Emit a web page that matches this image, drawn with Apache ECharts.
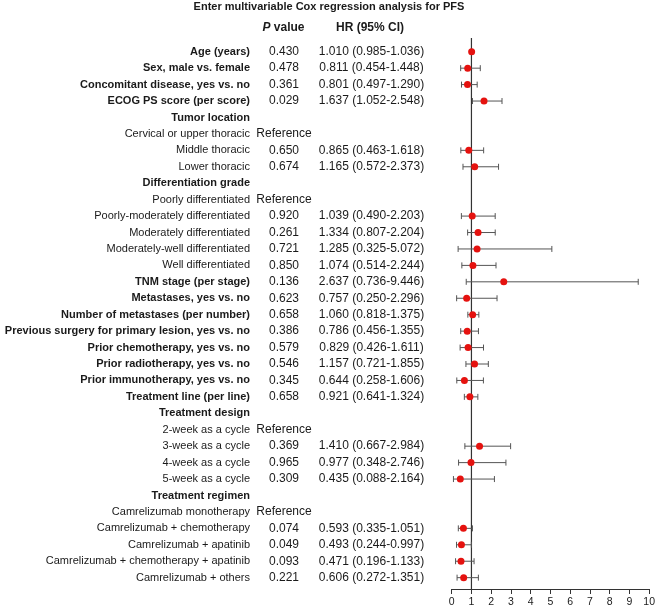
<!DOCTYPE html>
<html>
<head>
<meta charset="utf-8">
<script src="https://cdn.jsdelivr.net/npm/echarts@6/dist/echarts.min.js"></script>
<style>html,body{margin:0;padding:0;background:#fff;}#c{width:658px;height:608px;}</style>
</head>
<body>
<div id="c"></div>
<script>
const rowLabels = ['Age (years)', 'Sex, male vs. female', 'Concomitant disease, yes vs. no', 'ECOG PS score (per score)', 'Tumor location', 'Cervical or upper thoracic', 'Middle thoracic', 'Lower thoracic', 'Differentiation grade', 'Poorly differentiated', 'Poorly-moderately differentiated', 'Moderately differentiated', 'Moderately-well differentiated', 'Well differentiated', 'TNM stage (per stage)', 'Metastases, yes vs. no', 'Number of metastases (per number)', 'Previous surgery for primary lesion, yes vs. no', 'Prior chemotherapy, yes vs. no', 'Prior radiotherapy, yes vs. no', 'Prior immunotherapy, yes vs. no', 'Treatment line (per line)', 'Treatment design', '2-week as a cycle', '3-week as a cycle', '4-week as a cycle', '5-week as a cycle', 'Treatment regimen', 'Camrelizumab monotherapy', 'Camrelizumab + chemotherapy', 'Camrelizumab + apatinib', 'Camrelizumab + chemotherapy + apatinib', 'Camrelizumab + others'];
const boldRows = [0, 1, 2, 3, 4, 8, 14, 15, 16, 17, 18, 19, 20, 21, 22, 27];
const pValues = ['0.430','0.478','0.361','0.029','','Reference','0.650','0.674','','Reference','0.920','0.261','0.721','0.850','0.136','0.623','0.658','0.386','0.579','0.546','0.345','0.658','','Reference','0.369','0.965','0.309','','Reference','0.074','0.049','0.093','0.221'];
const hr = [1.010,0.811,0.801,1.637,null,null,0.865,1.165,null,null,1.039,1.334,1.285,1.074,2.637,0.757,1.060,0.786,0.829,1.157,0.644,0.921,null,null,1.410,0.977,0.435,null,null,0.593,0.493,0.471,0.606];
const ciLow = [0.985,0.454,0.497,1.052,null,null,0.463,0.572,null,null,0.490,0.807,0.325,0.514,0.736,0.250,0.818,0.456,0.426,0.721,0.258,0.641,null,null,0.667,0.348,0.088,null,null,0.335,0.244,0.196,0.272];
const ciHigh = [1.036,1.448,1.290,2.548,null,null,1.618,2.373,null,null,2.203,2.204,5.072,2.244,9.446,2.296,1.375,1.355,1.611,1.855,1.606,1.324,null,null,2.984,2.746,2.164,null,null,1.051,0.997,1.133,1.351];
const xTicks = [0, 1, 2, 3, 4, 5, 6, 7, 8, 9, 10];
const refLineX = 1;

const nRows = rowLabels.length;
const hrText = hr.map((v, i) => v == null ? '' : v.toFixed(3) + ' (' + ciLow[i].toFixed(3) + '-' + ciHigh[i].toFixed(3) + ')');
function rowIndex(v) {
  const r = Math.round(v);
  if (Math.abs(v - r) > 1e-6 || r < 0 || r >= nRows) return -1;
  return r;
}
const yMin = -1, yMax = 32.69;
const baseY = {type: 'value', inverse: true, min: yMin, max: yMax, interval: 1, position: 'left',
  axisLine: {show: false}, axisTick: {show: false}, splitLine: {show: false}};
const txtColor = '#1a1a1a';
const fontFam = '"Liberation Sans", Arial, sans-serif';

const pointData = [], barData = [];
hr.forEach((v, i) => { if (v != null) { pointData.push([v, i]); barData.push([ciLow[i], ciHigh[i], i]); } });

const chart = echarts.init(document.getElementById('c'), null, {renderer: 'canvas'});
chart.setOption({
  animation: false,
  backgroundColor: '#fff',
  textStyle: {fontFamily: fontFam},
  title: [
    {text: 'Enter multivariable Cox regression analysis for PFS', left: 'center', top: 0.5, padding: 0,
      textStyle: {fontSize: 11, fontWeight: 'bold', color: txtColor, lineHeight: 13, fontFamily: fontFam}},
    {text: '{i|P} value', left: 283.5, top: 20.5, padding: 0, textAlign: 'center',
      textStyle: {fontSize: 12, fontWeight: 'bold', color: txtColor, lineHeight: 14, fontFamily: fontFam,
        rich: {i: {fontSize: 12, fontWeight: 'bold', fontStyle: 'italic', color: txtColor, fontFamily: fontFam}}}},
    {text: 'HR (95% CI)', left: 370, top: 20.5, padding: 0, textAlign: 'center',
      textStyle: {fontSize: 12, fontWeight: 'bold', color: txtColor, lineHeight: 14, fontFamily: fontFam}}
  ],
  grid: {left: 451.7, right: 7.3, top: 35.3, bottom: 19, containLabel: false},
  xAxis: {type: 'value', min: xTicks[0], max: xTicks[xTicks.length - 1], interval: 1,
    axisLine: {show: true, onZero: false, lineStyle: {color: '#333', width: 1}},
    axisTick: {show: true, length: 5, lineStyle: {color: '#333'}},
    axisLabel: {fontSize: 10.5, color: txtColor, margin: 8, fontFamily: fontFam},
    splitLine: {show: false}},
  yAxis: [
    Object.assign({}, baseY, {axisLabel: {show: false}}),
    Object.assign({}, baseY, {offset: 201.7, axisLabel: {show: true, margin: 0, align: 'right',
      formatter: v => { const r = rowIndex(v); if (r < 0) return ''; return (boldRows.indexOf(r) >= 0 ? '{b|' : '{n|') + rowLabels[r] + '}'; },
      rich: {b: {fontSize: 11, fontWeight: 'bold', color: txtColor, fontFamily: fontFam},
             n: {fontSize: 11, color: txtColor, fontFamily: fontFam}}}}),
    Object.assign({}, baseY, {offset: 167.7, axisLabel: {show: true, margin: 0, align: 'center', fontSize: 12, color: txtColor, fontFamily: fontFam,
      formatter: v => { const r = rowIndex(v); return r < 0 ? '' : pValues[r]; }}}),
    Object.assign({}, baseY, {offset: 80.2, axisLabel: {show: true, margin: 0, align: 'center', fontSize: 12, color: txtColor, fontFamily: fontFam,
      formatter: v => { const r = rowIndex(v); return r < 0 ? '' : hrText[r]; }}})
  ],
  series: [
    {type: 'custom', name: 'ref', xAxisIndex: 0, yAxisIndex: 0, data: [[refLineX, -0.83, yMax]],
      encode: {x: 0, y: [1, 2]},
      renderItem: (params, api) => {
        const a = api.coord([api.value(0), api.value(1)]);
        const b = api.coord([api.value(0), api.value(2)]);
        return {type: 'line', shape: {x1: a[0], y1: a[1], x2: b[0], y2: b[1]}, style: {stroke: '#333', lineWidth: 1.2}};
      }},
    {type: 'custom', name: 'ci', xAxisIndex: 0, yAxisIndex: 0, data: barData,
      encode: {x: [0, 1], y: 2},
      renderItem: (params, api) => {
        const y = api.value(2);
        const p1 = api.coord([api.value(0), y]);
        const p2 = api.coord([api.value(1), y]);
        const h = 3;
        const st = {stroke: '#555', lineWidth: 1};
        return {type: 'group', children: [
          {type: 'line', shape: {x1: p1[0], y1: p1[1], x2: p2[0], y2: p2[1]}, style: st},
          {type: 'line', shape: {x1: p1[0], y1: p1[1] - h, x2: p1[0], y2: p1[1] + h}, style: st},
          {type: 'line', shape: {x1: p2[0], y1: p2[1] - h, x2: p2[0], y2: p2[1] + h}, style: st}
        ]};
      }},
    {type: 'scatter', name: 'HR', xAxisIndex: 0, yAxisIndex: 0, data: pointData, symbol: 'circle', symbolSize: 7,
      itemStyle: {color: '#e5120f', opacity: 1}, z: 5}
  ]
});
</script>
</body>
</html>
